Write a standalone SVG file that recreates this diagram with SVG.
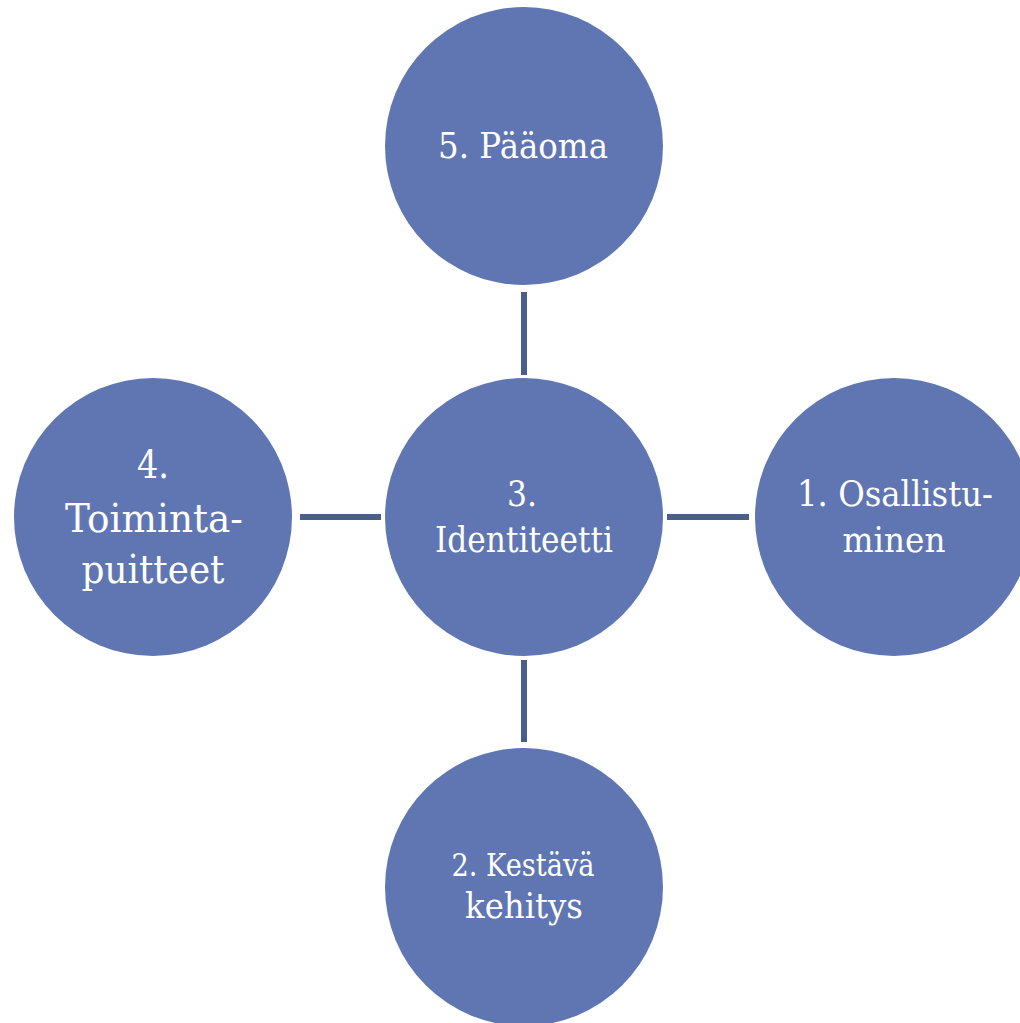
<svg xmlns="http://www.w3.org/2000/svg" width="1020" height="1023" viewBox="0 0 1020 1023">
<style>
.node{fill:#5f76b3;}
.lbl{fill:#ffffff;text-anchor:middle;font-family:"DejaVu Serif","Liberation Serif",serif;}
.conn{stroke:#4a5e8e;stroke-width:6;fill:none;}
</style>
<rect width="1020" height="1023" fill="#ffffff"/>
<g id="connectors">
<line class="conn" x1="524" y1="292" x2="524" y2="375"/>
<line class="conn" x1="524" y1="660" x2="524" y2="742"/>
<line class="conn" x1="300" y1="517" x2="381" y2="517"/>
<line class="conn" x1="667" y1="517" x2="749" y2="517"/>
</g>
<g id="node5">
<circle class="node" cx="524" cy="146" r="139"/>
<text class="lbl" x="523" y="158" font-size="36" textLength="170" lengthAdjust="spacingAndGlyphs">5. Pääoma</text>
</g>
<g id="node3">
<circle class="node" cx="524" cy="517" r="139"/>
<text class="lbl" x="522" y="506" font-size="35" textLength="30" lengthAdjust="spacingAndGlyphs">3.</text>
<text class="lbl" x="524" y="552" font-size="35" textLength="178" lengthAdjust="spacingAndGlyphs">Identiteetti</text>
</g>
<g id="node4">
<circle class="node" cx="153" cy="517" r="139"/>
<text class="lbl" x="153" y="478" font-size="40" textLength="32" lengthAdjust="spacingAndGlyphs">4.</text>
<text class="lbl" x="154" y="532" font-size="40" textLength="178" lengthAdjust="spacingAndGlyphs">Toiminta-</text>
<text class="lbl" x="153" y="583" font-size="40" textLength="143" lengthAdjust="spacingAndGlyphs">puitteet</text>
</g>
<g id="node1">
<circle class="node" cx="894" cy="517" r="139"/>
<text class="lbl" x="895" y="506" font-size="36" textLength="196" lengthAdjust="spacingAndGlyphs">1. Osallistu-</text>
<text class="lbl" x="894" y="552" font-size="36" textLength="103" lengthAdjust="spacingAndGlyphs">minen</text>
</g>
<g id="node2">
<circle class="node" cx="524" cy="887" r="139"/>
<text class="lbl" x="523" y="876" font-size="31" textLength="143" lengthAdjust="spacingAndGlyphs">2. Kestävä</text>
<text class="lbl" x="524" y="918" font-size="36" textLength="118" lengthAdjust="spacingAndGlyphs">kehitys</text>
</g>
</svg>
